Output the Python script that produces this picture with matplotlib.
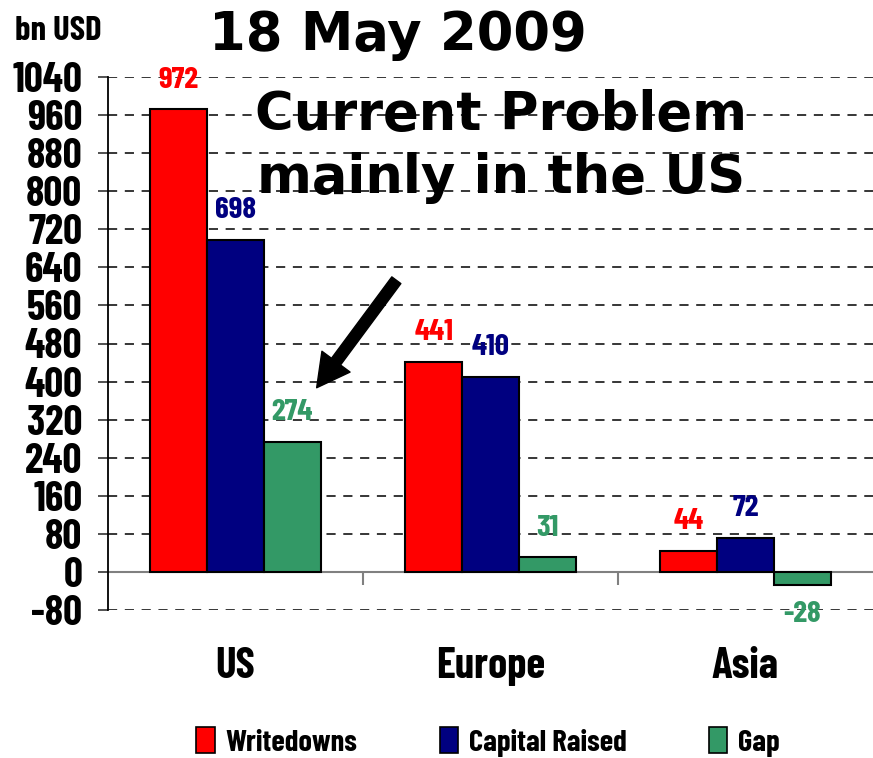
import matplotlib
matplotlib.use("Agg")
import matplotlib.pyplot as plt
from matplotlib.patches import Patch, FancyArrowPatch
import numpy as np

NARROW = ["Barlow Condensed", "Roboto Condensed", "DejaVu Sans"]

regions = ["US", "Europe", "Asia"]
series_names = ["Writedowns", "Capital Raised", "Gap"]
writedowns = [972, 441, 44]
capital_raised = [698, 410, 72]
gap = [274, 31, -28]
yticks = [-80, 0, 80, 160, 240, 320, 400, 480, 560, 640, 720, 800, 880, 960, 1040]

colors = ["#FF0000", "#000080", "#339966"]

nfont = dict(family=NARROW, fontweight="bold", fontstretch="condensed")

fig = plt.figure(figsize=(8.73, 7.58), dpi=100)
ax = fig.add_axes([108/873, (758-610)/758, (873-108)/873, (610-77)/758])

x = np.arange(len(regions))
w = 0.223
for i, (vals, c) in enumerate(zip([writedowns, capital_raised, gap], colors)):
    pos = x + (i - 1) * w
    ax.bar(pos, vals, width=w, color=c, edgecolor="black", linewidth=1.5, zorder=3)
    for p, v in zip(pos, vals):
        off = 21 if v >= 0 else -21
        ax.annotate(str(v), (p, v), xytext=(0, off), textcoords="offset points",
                    ha="center", va="center", color=c, fontsize=22.5, zorder=4, **nfont)

ax.set_xlim(-0.5, 2.5)
ax.set_ylim(-80, 1040)
ax.set_yticks(yticks)
ax.set_yticklabels([str(t) for t in yticks], fontsize=30, **nfont)
ax.tick_params(axis="y", direction="out", length=7.5, width=1.2, color="#333333", pad=11)
ax.yaxis.grid(True, linestyle=(0, (6, 5)), color="black", linewidth=1.1, zorder=1)

ax.spines["bottom"].set_position(("data", 0))
ax.spines["bottom"].set_color("#808080")
ax.spines["bottom"].set_linewidth(1.5)
ax.spines["top"].set_visible(False)
ax.spines["right"].set_visible(False)
ax.spines["left"].set_linewidth(1.3)
ax.spines["left"].set_zorder(5)

ax.set_xticks(x)
ax.set_xticklabels(regions, fontsize=31, **nfont)
ax.tick_params(axis="x", which="major", length=0, pad=54)
ax.set_xticks([0.5, 1.5], minor=True)
ax.tick_params(axis="x", which="minor", direction="out", length=9.5, width=1.5, color="#808080")

fig.text(15/873, 1 - 31/758, "bn USD", fontsize=25, va="center", ha="left", **nfont)
fig.text(398/873, 1 - 35/758, "18 May 2009", fontsize=38, fontweight="bold", family="DejaVu Sans", va="center", ha="center")
fig.text(501/873, 1 - 115/758, "Current Problem", fontsize=38, fontweight="bold", family="DejaVu Sans", va="center", ha="center")
fig.text(501/873, 1 - 178/758, "mainly in the US", fontsize=38, fontweight="bold", family="DejaVu Sans", va="center", ha="center")

fig.add_artist(FancyArrowPatch(
    (398/873, 1 - 278/758), (315/873, 1 - 390/758), transform=fig.transFigure,
    arrowstyle="simple,head_length=1.3,tail_width=0.45,head_width=1.4",
    mutation_scale=18, color="black", zorder=10))

handles = [Patch(facecolor=c, edgecolor="black", linewidth=1.2) for c in colors]
fig.legend(handles, series_names, loc="center", bbox_to_anchor=(488/873, 1 - 742/758),
           ncol=3, frameon=False, columnspacing=2.7, handlelength=0.6, handleheight=0.9,
           handletextpad=0.35, prop={"family": NARROW, "weight": "bold", "stretch": "condensed", "size": 22})

fig.savefig("out.png", dpi=100)
